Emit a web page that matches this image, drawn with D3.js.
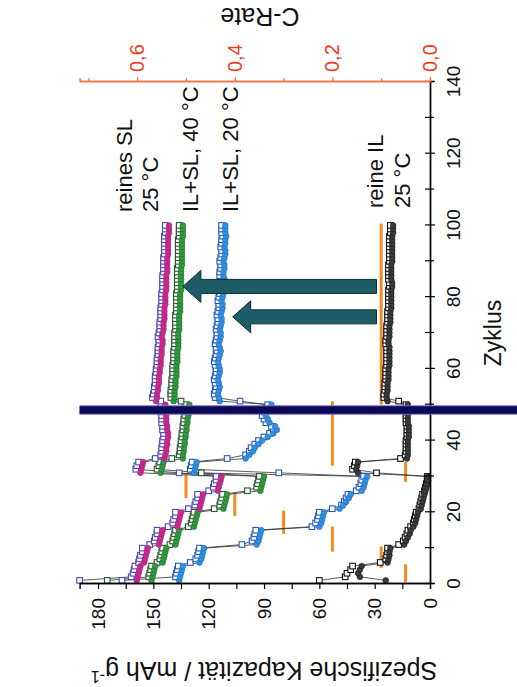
<!DOCTYPE html>
<html>
<head>
<meta charset="utf-8">
<script src="https://cdn.jsdelivr.net/npm/d3@7/dist/d3.min.js"></script>
<style>
  body { margin: 0; background: #fff; }
  svg { display: block; }
</style>
</head>
<body>
<script>
// cycle numbers 1..100 (x categories)
const cycles = d3.range(1, 101);

// reines SL, 25 °C
const slLad = [190,162,161,160.5,160, 158,157.5,157,156,156, 152,149.5,149,148,148, 142,139.5,139,138,138,
  131,127.5,127,126,126, 120,117.5,117,116,116, 136,159.5,159,158,
  149,146,145.5,145.5,145,145,144.5,144.5,145,145,145.5,145.5,145.5,146,146,146,
  146,150.5,150,149.5,149.5,149,149,149,148.5,148.5,148,148,148,147.5,147.5,147.5,147,147,147.5,147,
  146.5,146.5,146.5,146,146,146,146,145.5,145.5,145.5,145.5,145,145,145,145,145,144.5,144.5,144.5,144.5,
  144.5,144,144,144,144,144,144,143.5,143.5,143.5];
const slEnt = [159,158.5,158,157.5,157, 155,154.5,154,153.5,153, 147,146.5,146,145.5,145, 137,136.5,136,135.5,135,
  125,124.5,124,123.5,123, 115,114.5,114,113.5,113, 157,156.5,156,155.5,
  144,143.5,143,143,142.5,142.5,142,142,142.5,142.5,143,143,143,143.5,143.5,143.5,
  148.5,148,148,147.5,147.5,147,147,147,146.5,146.5,146,146,146,145.5,145.5,145.5,145,145,145.5,145,
  144.5,144.5,144.5,144,144,144,144,143.5,143.5,143.5,143.5,143,143,143,143,143,142.5,142.5,142.5,142.5,
  142.5,142,142,142,142,142,142,141.5,141.5,141.5];

// IL+SL, 40 °C
const g40Lad = [175,152.5,152,151.5,151, 148,146.5,146,145.5,145, 141,139.5,139,138.5,138, 131,129.5,129,128.5,128,
  117,114,113.5,113,112.5, 99,94,93.5,93,92.5, 124,148,147,146.5,
  140,136,135.5,135.5,135,135,134.5,134.5,134,134,133.5,133.5,133,133,132.5,132.5,
  135,140.5,140.5,140.5,140,140,140,139.5,139.5,139.5,139.5,139,139,139,139,138.5,138.5,138.5,138.5,138.5,
  138,138,138,138,138,137.5,137.5,137.5,137.5,137.5,137.5,137,137,137,137,137,137,137,136.5,136.5,
  136.5,136.5,136.5,136.5,136.5,136.5,136,136,136,136];
const g40Ent = [151,150.5,150,149.5,149, 145,144.5,144,143.5,143, 138,137.5,137,136.5,136, 128,127.5,127,126.5,126,
  112,111.5,111,110.5,110, 92,91.5,91,90.5,90, 146,145.5,145,144.5,
  134,134,133.5,133.5,133,133,132.5,132.5,132,132,131.5,131.5,131,131,130.5,130.5,
  139,138.5,138.5,138.5,138,138,138,137.5,137.5,137.5,137.5,137,137,137,137,136.5,136.5,136.5,136.5,136.5,
  136,136,136,136,136,135.5,135.5,135.5,135.5,135.5,135.5,135,135,135,135,135,135,135,134.5,134.5,
  134.5,134.5,134.5,134.5,134.5,134.5,134,134,134,134];

// IL+SL, 20 °C
const g20Lad = [167,138,137.5,137,136.5, 130,127,126,125.5,125, 102,96.5,95.5,95,94.5, 64,62,61,60.5,60,
  53,48,46.5,45.5,44.5, 40,38.5,37.5,37,36, 82,130,129.5,129,
  110,100,98,97,95,93,90,87,85,86,89,90,91,90,89,88,
  103,116.5,117,116.5,116,116.5,117,116.5,116,116,116.5,117,116.5,116,115.5,116,116.5,116,115.5,115.5,
  116,115.5,115,115,115.5,115,114.5,114.5,115,114.5,114,114,114.5,114,113.5,114,114,113.5,113.5,114,
  113.5,113,113,113.5,113,113,112.5,113,113,113];
const g20Ent = [136,135.5,135,134.5,134, 125,124,123.5,123,122.5, 94,93,92.5,92,91.5, 60,59,58.5,58,57.5,
  49,47,45.5,44,43, 37,36,35.5,35,34, 128,127.5,127,126.5,
  100,98,96,95,93,91,88,85,83,84,87,88,89,88,87,86,
  114,114.5,115,114.5,114,114.5,115,114.5,114,114,114.5,115,114.5,114,113.5,114,114.5,114,113.5,113.5,
  114,113.5,113,113,113.5,113,112.5,112.5,113,112.5,112,112,112.5,112,111.5,112,112,111.5,111.5,112,
  111.5,111,111,111.5,111,111,110.5,111,111,111];

// reine IL, 25 °C
const ilLad = [60,46,45,43,42, 27,24,23.5,23,23, 17,14.5,13.5,12.5,12, 10.5,9,8.5,8,7.5,
  6,5.5,5,4.5,4, 3,2.5,2,1.5,1.5, 29,42,41,40.5,
  16,13.5,13,13,13,13,12.5,12.5,12.5,12.5,13,13,13,13,13,13,
  17,25,25,24.5,24.5,24.5,24,24,24,24,23.5,23.5,23.5,23.5,23.5,23.5,24,24,23.5,23.5,
  23.5,23.5,23,23,23,23,22.5,22.5,22.5,22.5,22.5,22.5,22,22,22.5,22.5,22.5,22.5,22.5,22,
  22,22,22,22,22,22,22,21.5,21.5,21.5];
const ilEnt = [24,38,39,38,37, 23,22.5,22,22,21.5, 14,13,12,11,10.5, 9,8,7.5,7,6.5,
  5,4.5,4,3.5,3, 2.5,2,1.5,1,1, 39,40,39.5,39,
  12.5,12,12,12,12,12,11.5,11.5,11.5,11.5,12,12,12,12,12,12,
  23,23.5,23.5,23,23,23,22.5,22.5,22.5,22.5,22,22,22,22,22,22,22.5,22.5,22,22,
  22,22,21.5,21.5,21.5,21.5,21,21,21,21,21,21,20.5,20.5,21,21,21,21,21,20.5,
  20.5,20.5,20.5,20.5,20.5,20.5,20.5,20,20,20];

// C-rate steps (orange bars)
const rates    = [0.05, 0.1, 0.2, 0.3, 0.4, 0.5, 0.05, 0.2, 0.1];
const rateFrom = [0.5, 4.5, 9, 14, 19, 24, 28.5, 33, 50];
const rateTo   = [5.5, 10.5, 16, 20.5, 25.5, 30.5, 34, 51, 100.5];

// annotations
const markCycle = 48.5;
const arrowCycles = [83, 74.5];
const arrowFrom = [29, 29];
const arrowTo = [134, 107];

// axis ticks
const cycleTicks = [0, 20, 40, 60, 80, 100, 120, 140];
const cycleMinor = [10, 30, 50, 70, 90, 110, 130];
const capTicks = [0, 30, 60, 90, 120, 150, 180];
const capMinor = [15, 45, 75, 105, 135, 165];
const rateTicks = [0, 0.2, 0.4, 0.6];
const rateMinor = [0.1, 0.3, 0.5, 0.7];

const W = 517, H = 687;
const font = "'Liberation Sans', Arial, Helvetica, sans-serif";

const svg = d3.select("body").append("svg")
    .attr("width", W)
    .attr("height", H)
    .style("font-family", font);

// the figure is drawn upright and then turned a quarter counter-clockwise
const g = svg.append("g").attr("transform", `translate(0,${H}) rotate(-90)`);

const x = d3.scaleLinear().domain([0, 140]).range([103, 605]);
const y = d3.scaleLinear().domain([0, 190]).range([430, 79.6]);
const yR = d3.scaleLinear().domain([0, 0.718]).range([430, 79.6]);

// C-rate bars
g.append("g").selectAll("line")
    .data(rates)
    .join("line")
    .attr("x1", (d, i) => x(rateFrom[i]))
    .attr("x2", (d, i) => x(rateTo[i]))
    .attr("y1", d => yR(d))
    .attr("y2", d => yR(d))
    .attr("stroke", "#f28c1e")
    .attr("stroke-width", 3);

const series = [
    { lad: ilLad, ent: ilEnt, col: "#3c3c3c", edge: "#111" },
    { lad: g20Lad, ent: g20Ent, col: "#2f93e0", edge: "#2458b8" },
    { lad: g40Lad, ent: g40Ent, col: "#2e9e3c", edge: "#25562c" },
    { lad: slLad, ent: slEnt, col: "#e0207f", edge: "#4a48ad" }
];

const line = d3.line()
    .x((d, i) => x(cycles[i]))
    .y(d => y(d));

series.forEach(s => {
    g.append("path").datum(s.lad)
        .attr("fill", "none").attr("stroke", "#333").attr("stroke-width", 0.8)
        .attr("d", line);
    g.append("path").datum(s.ent)
        .attr("fill", "none").attr("stroke", "#333").attr("stroke-width", 0.8)
        .attr("d", line);
});

series.forEach(s => {
    g.append("g").selectAll("rect")
        .data(s.lad)
        .join("rect")
        .attr("x", (d, i) => x(cycles[i]) - 2.8)
        .attr("y", d => y(d) - 2.8)
        .attr("width", 5.6)
        .attr("height", 5.6)
        .attr("fill", "#fff")
        .attr("stroke", s.edge)
        .attr("stroke-width", 1.1);
    g.append("g").selectAll("circle")
        .data(s.ent)
        .join("circle")
        .attr("cx", (d, i) => x(cycles[i]))
        .attr("cy", d => y(d))
        .attr("r", 2.9)
        .attr("fill", s.col)
        .attr("stroke", s.edge)
        .attr("stroke-width", 0.5);
});

// arrows
const shaft = 7, head = 16, headLen = 18;
g.append("g").selectAll("path")
    .data(arrowCycles)
    .join("path")
    .attr("d", (d, i) => {
        const u = x(d), v0 = y(arrowFrom[i]), v1 = y(arrowTo[i]);
        return d3.line()([
            [u - shaft, v0], [u - shaft, v1 + headLen], [u - head, v1 + headLen], [u, v1],
            [u + head, v1 + headLen], [u + shaft, v1 + headLen], [u + shaft, v0]
        ]) + "Z";
    })
    .attr("fill", "#1e5d66")
    .attr("stroke", "#0b2a30")
    .attr("stroke-width", 1);

// axes
const bottom = g.append("g").attr("transform", `translate(0,${y(0)})`)
    .call(d3.axisBottom(x).tickValues(cycleTicks).tickSize(5).tickSizeOuter(0).tickPadding(12));
bottom.append("g")
    .call(d3.axisBottom(x).tickValues(cycleMinor).tickSize(4).tickFormat(""));
bottom.selectAll(".tick line").attr("y1", -5);

const left = g.append("g").attr("transform", `translate(${x(0)},0)`)
    .call(d3.axisLeft(y).tickValues(capTicks).tickSize(5).tickSizeOuter(0).tickPadding(9));
left.append("g")
    .call(d3.axisLeft(y).tickValues(capMinor).tickSize(5).tickFormat(""));

const right = g.append("g").attr("transform", `translate(${x(140)},0)`)
    .call(d3.axisRight(yR).tickValues(rateTicks).tickSize(5).tickSizeOuter(0).tickPadding(5)
        .tickFormat(d => d3.format(".1f")(d).replace(".", ",")));
right.append("g")
    .call(d3.axisRight(yR).tickValues(rateMinor).tickSize(4).tickFormat(""));

g.selectAll(".domain").attr("stroke-width", 1.4);
g.selectAll(".tick line").attr("stroke-width", 1.2);
g.selectAll(".tick text").style("font-family", font).attr("font-size", 19).attr("fill", "#111");
right.selectAll(".domain, .tick line").attr("stroke", "#ef7246");
right.selectAll(".tick text").attr("fill", "#ee3b22").attr("font-size", 20);

// marker line at cycle 48.5
g.append("line")
    .attr("x1", x(markCycle)).attr("x2", x(markCycle))
    .attr("y1", y(190)).attr("y2", W)
    .attr("stroke", "#7b62d6").attr("stroke-width", 9.5);
g.append("line")
    .attr("x1", x(markCycle)).attr("x2", x(markCycle))
    .attr("y1", y(190)).attr("y2", W)
    .attr("stroke", "#0b0b55").attr("stroke-width", 7.5);

// titles
g.append("text")
    .attr("transform", `translate(25,264) rotate(-90)`)
    .attr("text-anchor", "middle")
    .attr("font-size", 25)
    .attr("fill", "#111")
    .text("Spezifische Kapazität / mAh g")
    .append("tspan").attr("dy", -9).attr("font-size", 16).text("-1");

g.append("text")
    .attr("transform", `translate(679,260) rotate(-90)`)
    .attr("text-anchor", "middle")
    .attr("font-size", 25)
    .attr("fill", "#111")
    .text("C-Rate");

g.append("text")
    .attr("x", x(70)).attr("y", 501)
    .attr("text-anchor", "middle")
    .attr("font-size", 23)
    .attr("fill", "#111")
    .text("Zyklus");

// curve labels
const labels = [
    ["reines SL", 475, 132], ["25 °C", 475, 158],
    ["IL+SL, 40 °C", 475, 198], ["IL+SL, 20 °C", 475, 238],
    ["reine IL", 479, 383], ["25 °C", 479, 410]
];
g.append("g").selectAll("text")
    .data(labels)
    .join("text")
    .attr("x", d => d[1]).attr("y", d => d[2])
    .attr("font-size", 22)
    .attr("fill", "#111")
    .text(d => d[0]);
</script>
</body>
</html>
